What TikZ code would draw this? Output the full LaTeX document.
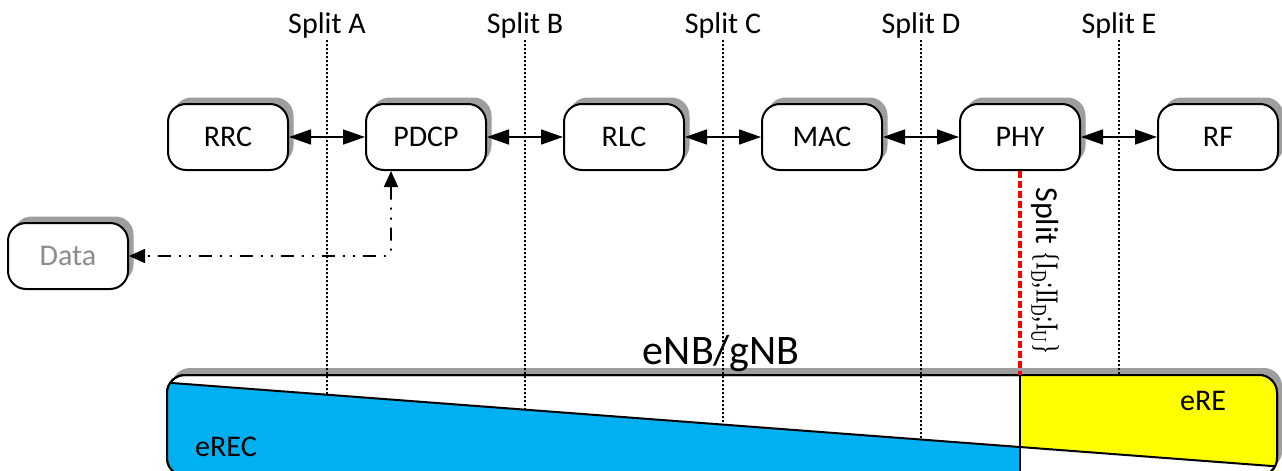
\documentclass[tikz,border=0pt]{standalone}
\usepackage{fontspec}
\setmainfont{Carlito}
\newfontfamily\romanfont{Liberation Serif}
\usetikzlibrary{positioning,arrows.meta,shadows,calc}
\definecolor{erecblue}{HTML}{00B0F0}
\definecolor{ereyellow}{HTML}{FFFF00}
\tikzset{
  layer/.style={draw, line width=1pt, rounded corners=9pt, fill=white,
    minimum width=60pt, minimum height=33pt, font=\fontsize{15}{18}\selectfont,
    drop shadow={shadow xshift=2.75pt, shadow yshift=3.25pt, fill=black!38, opacity=1}},
  link/.style={{Triangle[length=11pt,width=7.5pt]}-{Triangle[length=11pt,width=7.5pt]}, line width=0.8pt},
  datalink/.style={{Triangle[length=8pt,width=7pt]}-{Triangle[length=8pt,width=7pt]}, line width=0.8pt,
    rounded corners=3pt, dash pattern=on 6.5pt off 4pt on 1pt off 4pt on 1pt off 4pt},
  cutline/.style={line width=0.9pt, dash pattern=on 1pt off 1pt},
  cutlabel/.style={anchor=base, inner sep=1pt, font=\fontsize{15}{18}\selectfont},
  phyline/.style={red, line width=1.6pt, dash pattern=on 3.5pt off 1.5pt},
  bigbox/.style={draw, line width=1pt, rounded corners=9pt, fill=white, inner sep=0pt, outer sep=0pt,
    minimum width=555pt, minimum height=50.5pt,
    drop shadow={shadow xshift=2.5pt, shadow yshift=3.5pt, fill=black!38, opacity=1}},
}

\begin{document}
\begin{tikzpicture}[x=0.5pt, y=-0.5pt, node distance=38pt]
  \useasboundingbox (0,0) rectangle (1282,471);
  \clip (0,0) rectangle (1282,471);

  % protocol layers
  \node[layer] (rrc) at (228,137) {RRC};
  \node[layer, right=of rrc] (pdcp) {PDCP};
  \node[layer, right=of pdcp] (rlc) {RLC};
  \node[layer, right=of rlc] (mac) {MAC};
  \node[layer, right=of mac] (phy) {PHY};
  \node[layer, right=of phy] (rf) {RF};
  \node[layer, text=black!45] (data) at (68,256) {Data};

  \foreach \a/\b in {rrc/pdcp, pdcp/rlc, rlc/mac, mac/phy, phy/rf}
    \draw[link] (\a) -- (\b);

  \coordinate (tap) at ([xshift=-17.5pt]pdcp.south);
  \draw[datalink] (tap) |- (data);

  % eNB/gNB
  \node[bigbox] (gnb) at (722,425.5) {};
  \coordinate (slopeL) at (160,382.1);
  \coordinate (slopeR) at (1290,467.4);
  \coordinate (divide) at (intersection of phy.north--phy.south and slopeL--slopeR);
  \begin{scope}
    \clip[rounded corners=9pt] (gnb.north west) rectangle (gnb.south east);
    \fill[erecblue] (slopeL) -- (divide) -- (phy |- gnb.south) -- (slopeL |- gnb.south) -- cycle;
    \fill[ereyellow] (phy |- gnb.north) -- (slopeR |- gnb.north) -- (slopeR) -- (divide) -- cycle;
    \draw[line width=1pt] (slopeL) -- (slopeR);
    \draw[line width=1pt] (phy |- gnb.north) -- (phy |- gnb.south);
  \end{scope}
  \draw[line width=1pt, rounded corners=9pt] (gnb.north west) rectangle (gnb.south east);

  \node[anchor=base, font=\fontsize{21}{25}\selectfont] (gnbtitle) at (721,364) {eNB/gNB};
  \node[anchor=base, font=\fontsize{15}{18}\selectfont] (erec) at (226,456) {eREC};
  \node[anchor=base, font=\fontsize{15}{18}\selectfont] (ere) at (1203,410) {eRE};

  % splits
  \coordinate (top) at (0,33);
  \foreach \a/\b/\s in {rrc/pdcp/A, pdcp/rlc/B, rlc/mac/C, mac/phy/D, phy/rf/E} {
    \coordinate (cut\s) at ($(\a.east)!0.5!(\b.west)$);
    \node[cutlabel] (lbl\s) at (cut\s |- top) {Split \s};
  }
  \foreach \s in {A,B,C,D}
    \draw[cutline] (lbl\s.south) -- (intersection of slopeL--slopeR and lbl\s.south--cut\s);
  \draw[cutline] (lblE.south) -- (cutE |- gnb.north);

  \draw[phyline] (phy) -- (phy |- gnb.north);
  \node[rotate=-90, anchor=west, inner sep=0pt] (physplit) at (1045,187)
    {\fontsize{16}{18}\selectfont Split \scalebox{0.72}[1]{\romanfont\fontsize{16}{18}\selectfont
     \{I\textsubscript{D};II\textsubscript{D};I\textsubscript{U}\}}};
\end{tikzpicture}
\end{document}
